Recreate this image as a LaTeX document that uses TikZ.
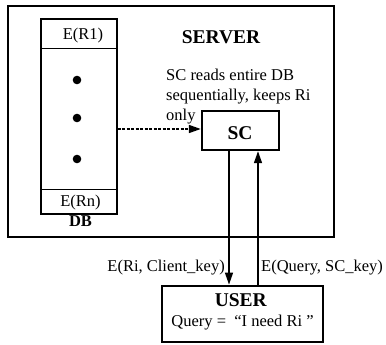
\documentclass[tikz,border=0pt]{standalone}
\usepackage{fontspec}
\setmainfont{Liberation Serif}
\usetikzlibrary{arrows.meta,calc}
\begin{document}
\begin{tikzpicture}[x=1pt,y=-1pt,
  lbl/.style={font=\fontsize{16.5}{20}\selectfont, inner sep=0pt},
  big/.style={font=\fontsize{19.5}{22}\selectfont\bfseries, inner sep=0pt},
  tip/.style={-{Triangle[length=12pt,width=8pt]}},
  boxnode/.style={draw, inner sep=0pt},
]
\useasboundingbox (0,0) rectangle (386,345);
% server box
\node[boxnode, line width=2.8pt, minimum width=326pt, minimum height=231pt] (server) at (171,121.5) {};
% DB column
\node[boxnode, line width=1.3pt, minimum width=76pt, minimum height=195pt] (db) at (79,116.5) {};
\draw[line width=1.3pt] ([yshift=-30pt]db.north west) -- ([yshift=-30pt]db.north east);
\draw[line width=1.3pt] ([yshift=25pt]db.south west) -- ([yshift=25pt]db.south east);
\node[lbl] (r1) at (83,35.5) {E(R1)};
\node[lbl] (rn) at (80.5,202.5) {E(Rn)};
\node[lbl, font=\fontsize{16.5}{20}\selectfont\bfseries] (dblbl) at (80.5,221.5) {DB};
\fill (77,80) circle[radius=4.3pt];
\fill (77,118) circle[radius=4.3pt];
\fill (77,159) circle[radius=4.3pt];
% server texts
\node[big] (srvlbl) at (221,37) {SERVER};
\node[lbl, anchor=north west, align=left] (note) at (166,68.5) {SC reads entire DB\\sequentially, keeps Ri\\only};
% SC box
\node[boxnode, line width=2.4pt, minimum width=77pt, minimum height=39pt] (sc) at (240.5,130.5) {};
\node[big] (sclbl) at (240,132.7) {SC};
% USER box
\node[boxnode, line width=2.8pt, minimum width=161pt, minimum height=56pt] (user) at (242.5,314) {};
\node[big] (userlbl) at (240.8,300.5) {USER};
\node[lbl] (query) at (242.5,322.9) {Query =\ \ “I need Ri ”};
% connectors
\coordinate (dl) at ([yshift=1.5pt]sc.west);
\draw[tip, line width=1.6pt, dash pattern=on 3pt off 1.5pt] (db.east |- dl) -- (dl);
\coordinate (dn) at ($(sc.south)+(-11.5,0)$);
\coordinate (up) at ($(sc.south)+(17.5,0)$);
\draw[tip, line width=1.5pt] (dn) -- (dn |- user.north);
\draw[tip, line width=1.5pt] (up |- user.north) -- (up);
\node[lbl, anchor=east] (l1) at (225,268) {E(Ri, Client\_key)};
\node[lbl, anchor=west] (l2) at (261,268) {E(Query, SC\_key)};
\end{tikzpicture}
\end{document}
